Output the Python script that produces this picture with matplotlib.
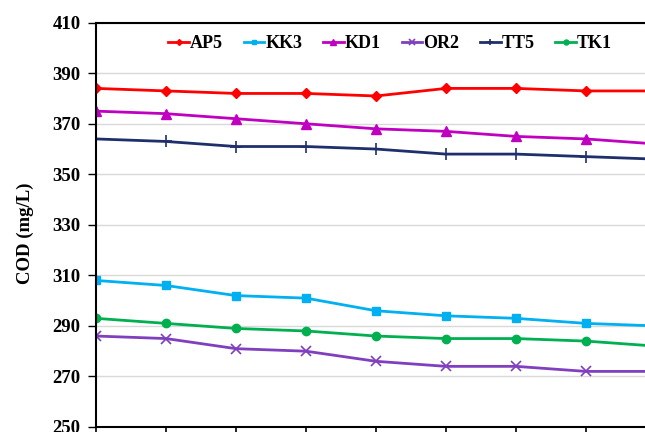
import numpy as np
import matplotlib
matplotlib.use('Agg')
import matplotlib.pyplot as plt

plt.rcParams['font.family'] = ['Liberation Serif', 'DejaVu Serif']
plt.rcParams['font.weight'] = 'bold'

# sampling points (the last one sits just past the cropped right edge)
points = np.arange(1, 10)

series_names = ["AP5", "KK3", "KD1", "OR2", "TT5", "TK1"]
ap5 = [384, 383, 382, 382, 381, 384, 384, 383, 383]
kk3 = [308, 306, 302, 301, 296, 294, 293, 291, 290]
kd1 = [375, 374, 372, 370, 368, 367, 365, 364, 362]
or2 = [286, 285, 281, 280, 276, 274, 274, 272, 272]
tt5 = [364, 363, 361, 361, 360, 358, 358, 357, 356]
tk1 = [293, 291, 289, 288, 286, 285, 285, 284, 282]

yticks = [250, 270, 290, 310, 330, 350, 370, 390, 410]

styles = [
    ("#FF0000", "D", 5, ap5),
    ("#00B0F0", "s", 6, kk3),
    ("#C000C0", "^", 7, kd1),
    ("#7F3FBF", "x", 7, or2),
    ("#1F2F6B", "+", 8, tt5),
    ("#00B050", "o", 6, tk1),
]

fig = plt.figure(figsize=(6.45, 4.32), dpi=100)
# axes run a bit past the right border, as in the cropped original
ax = fig.add_axes([96 / 645, 1 - 427 / 432, (656 - 96) / 645, (427 - 22.7) / 432])

for name, (col, mk, ms, vals) in zip(series_names, styles):
    ax.plot(points, vals, color=col, marker=mk, markersize=ms, linewidth=2,
            markeredgewidth=1.2 if mk in "x+" else 1, label=name)

ax.set_xlim(1, 9)
ax.set_ylim(250, 410)
ax.set_yticks(yticks)
ax.set_xticks(points)
ax.set_xticklabels([])
ax.grid(axis='y', color='#D9D9D9', linewidth=1)
ax.set_axisbelow(True)

for s in ['left', 'bottom', 'top']:
    ax.spines[s].set_linewidth(1.5)
    ax.spines[s].set_color('black')
ax.spines['right'].set_visible(False)
ax.tick_params(axis='y', direction='out', length=6, width=1, labelsize=13.5, pad=5)
ax.tick_params(axis='x', direction='out', length=6, width=1.2)
for lab in ax.get_yticklabels():
    lab.set_fontweight('bold')

ax.set_ylabel("COD (mg/L)", fontsize=13.5, fontweight='bold')
ax.yaxis.set_label_coords(-0.111, 0.48)

leg = ax.legend(loc='upper left', bbox_to_anchor=(0.10, 1.01), ncol=6, frameon=False,
                handlelength=1.15, handletextpad=0.05, columnspacing=1.15,
                prop={'size': 13, 'weight': 'bold'}, markerscale=0.6)

fig.savefig("out.png", dpi=100)
